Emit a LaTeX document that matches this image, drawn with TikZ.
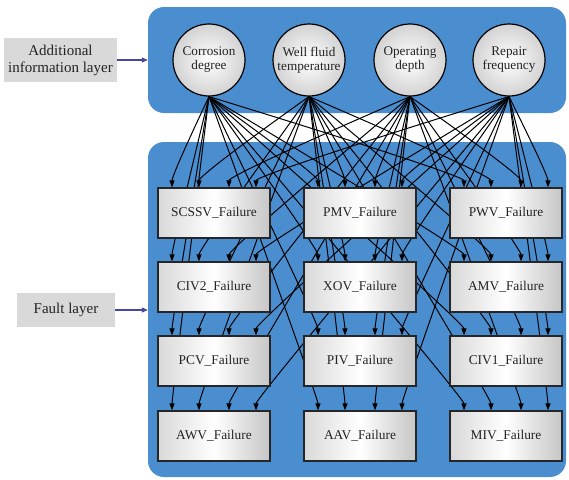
\documentclass[tikz,border=0pt]{standalone}
\usepackage{fontspec}
\setmainfont{Liberation Serif}
\usetikzlibrary{arrows.meta,calc}
\definecolor{panelblue}{RGB}{74,142,208}
\definecolor{tagfill}{RGB}{217,217,217}
\definecolor{tagline}{RGB}{70,70,160}
\definecolor{inktext}{RGB}{35,35,35}
\pgfdeclarelayer{background}
\pgfsetlayers{background,main}
\begin{document}
\begin{tikzpicture}[x=1pt,y=-1pt,
  panel/.style={rectangle, fill=panelblue, rounded corners=16pt, inner sep=0pt},
  factor/.style={circle, draw=black, line width=1.2pt, minimum size=72pt, inner sep=0pt,
    inner color=white, outer color=gray!35, align=center,
    font=\fontsize{13.2}{14}\selectfont, text=inktext},
  fault/.style={rectangle, draw=black!85, line width=1.2pt, minimum width=112pt,
    minimum height=50pt, left color=gray!30, right color=gray!45, middle color=white,
    font=\fontsize{13.4}{15}\selectfont, text=inktext},
  tag/.style={rectangle, fill=tagfill, align=center, inner sep=0pt,
    font=\fontsize{15}{17}\selectfont, text=inktext},
  link/.style={line width=1pt, -{Triangle[length=7pt,width=5pt]}},
  tagarrow/.style={draw=tagline, line width=1.2pt, -{Triangle[length=6pt,width=5pt]}}
]
\useasboundingbox (0,0) rectangle (569,479);

% layer panels
\begin{pgfonlayer}{background}
  \node[panel, minimum width=418pt, minimum height=106pt] (toppanel) at (357,60) {};
  \node[panel, minimum width=418pt, minimum height=335pt] (botpanel) at (357,309.5) {};
\end{pgfonlayer}

% layer tags
\node[tag, minimum width=113pt, minimum height=44pt] (addl) at (60.5,60) {Additional\\information layer};
\node[tag, minimum width=98pt, minimum height=34pt] (faultlbl) at (66,310) {Fault layer};
\draw[tagarrow] (addl.east) -- (addl.east -| toppanel.west);
\draw[tagarrow] (faultlbl.east) -- (faultlbl.east -| botpanel.west);

% additional information nodes
\node[factor] (cd) at (209,60) {Corrosion\\degree};
\node[factor] (wf) at (309,60) {Well fluid\\temperature};
\node[factor] (od) at (410,60) {Operating\\depth};
\node[factor] (rf) at (509,60) {Repair\\frequency};

% fault nodes
\node[fault] (scssv) at (214,213) {SCSSV\_Failure};
\node[fault] (pmv)   at (360,213) {PMV\_Failure};
\node[fault] (pwv)   at (506,213) {PWV\_Failure};
\node[fault] (civ2)  at (214,287) {CIV2\_Failure};
\node[fault] (xov)   at (360,287) {XOV\_Failure};
\node[fault] (amv)   at (506,287) {AMV\_Failure};
\node[fault] (pcv)   at (214,361) {PCV\_Failure};
\node[fault] (piv)   at (360,361) {PIV\_Failure};
\node[fault] (civ1)  at (506,361) {CIV1\_Failure};
\node[fault] (awv)   at (214,436) {AWV\_Failure};
\node[fault] (aav)   at (360,436) {AAV\_Failure};
\node[fault] (miv)   at (506,436) {MIV\_Failure};

% every factor influences every fault
\begin{pgfonlayer}{background}
  \foreach \s/\dx in {cd/-42,wf/-15,od/15,rf/42}{
    \foreach \t in {scssv,pmv,pwv,civ2,xov,amv,pcv,piv,civ1,awv,aav,miv}{
      \draw[link] (\s.south) .. controls (\s.south) and ($(\t.north)+(\dx,-13)$) .. ($(\t.north)+(\dx,0)$);
    }
  }
\end{pgfonlayer}
\end{tikzpicture}
\end{document}
